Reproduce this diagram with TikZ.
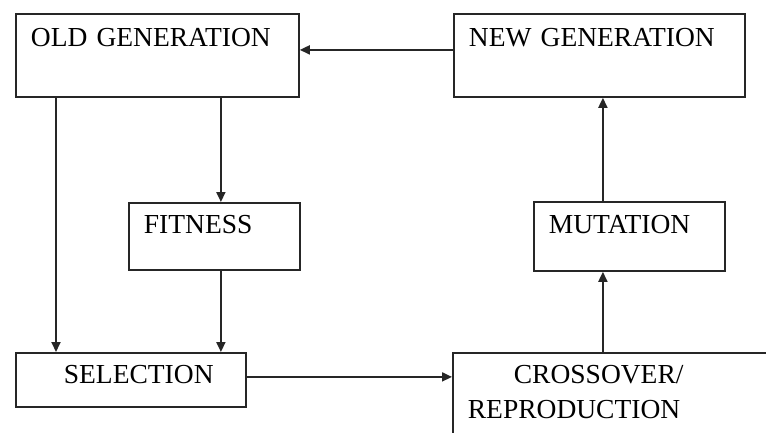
\documentclass[tikz,border=0pt]{standalone}
\usepackage{fontspec}
\setmainfont{Liberation Serif}
\usetikzlibrary{arrows.meta}
\tikzset{
  box/.style={rectangle, draw=black!85, line width=1.8pt, anchor=north west,
    inner xsep=15pt, inner ysep=0pt, align=left,
    font=\fontsize{27.5}{35}\selectfont},
  arr/.style={-{Triangle[length=10pt, width=9pt]}, line width=1.8pt, draw=black!85},
}
\begin{document}
\begin{tikzpicture}[x=1pt, y=-1pt]
  \clip (0,0) rectangle (766,432);
  \fill[white] (0,0) rectangle (766,432);

  \node[box, text width=253pt, text height=33pt, text depth=50pt] (old) at (15,13) {OLD GENERATION};
  \node[box, text width=261pt, text height=33pt, text depth=50pt] (new) at (453,13) {NEW GENERATION};
  \node[box, text width=141pt, text height=31pt, text depth=36pt] (fit) at (128,202) {FITNESS};
  \node[box, text width=161pt, text height=32pt, text depth=37pt] (mut) at (533,201) {MUTATION};
  \node[box, text width=200pt, text height=31pt, text depth=23pt] (sel) at (15,352) {\hspace*{33pt}SELECTION};
  \node[box, text width=310pt, text height=31pt, text depth=100pt] (cro) at (452,352) {\hspace*{46pt}CROSSOVER/\\REPRODUCTION};

  \draw[arr] ([yshift=5.5pt]new.west) -- ([yshift=5.5pt]old.east);
  \draw[arr] ([xshift=41pt]old.south west) -- ([xshift=41pt]sel.north west);
  \draw[arr] ([xshift=6.5pt]fit.north |- old.south) -- ([xshift=6.5pt]fit.north);
  \draw[arr] ([xshift=6.5pt]fit.south) -- ([xshift=6.5pt]fit.south |- sel.north);
  \draw[arr] ([yshift=3pt]sel.east) -- ([yshift=3pt]sel.east -| cro.west);
  \draw[arr] ([xshift=-26.5pt]mut.south |- cro.north) -- ([xshift=-26.5pt]mut.south);
  \draw[arr] ([xshift=-26.5pt]mut.north) -- ([xshift=-26.5pt]mut.north |- new.south);
\end{tikzpicture}
\end{document}
